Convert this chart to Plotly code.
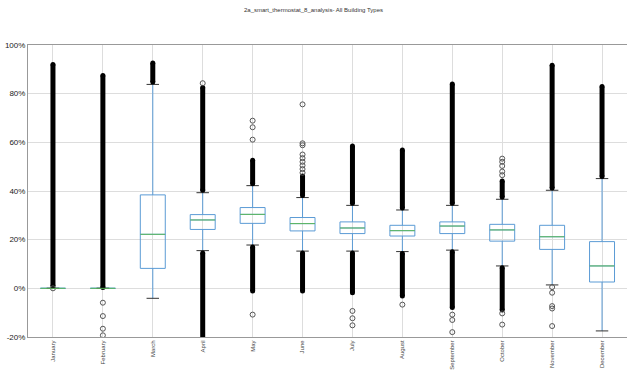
import plotly.graph_objects as go

# Monthly distribution of savings share (%), all building types
months = ["January", "February", "March", "April", "May", "June", "July",
          "August", "September", "October", "November", "December"]
q1 = [0, 0, 8.2, 24.2, 26.7, 23.6, 22.5, 21.5, 22.5, 19.4, 16.0, 2.6]
median = [0, 0, 22.2, 28.1, 30.4, 26.6, 24.8, 23.7, 25.6, 24.0, 21.2, 9.2]
q3 = [0, 0, 38.4, 30.3, 33.2, 29.1, 27.3, 25.9, 27.3, 26.3, 25.9, 19.2]
whisker_low = [0, 0, -4.1, 15.5, 17.8, 15.3, 15.3, 15.1, 15.7, 9.2, 1.4, -17.5]
whisker_high = [0, 0, 83.8, 39.3, 42.2, 37.3, 34.1, 32.2, 34.1, 36.6, 40.3, 45.1]

# Ranges packed so densely with outliers that they render as solid bands
upper_band_from = [1.0, 0.3, 84.8, 40.3, 43.0, 38.2, 35.0, 33.0, 35.0, 37.5, 41.2, 46.0]
upper_band_to = [92.0, 87.5, 92.6, 82.5, 52.6, 46.2, 58.5, 56.8, 84.0, 44.1, 91.7, 82.9]
lower_band_from = [None, None, None, 14.5, 17.0, 14.5, 14.5, 14.3, 15.0, 8.5, None, None]
lower_band_to = [None, None, None, -21.0, -1.1, -1.1, -1.8, -3.2, -7.9, -8.9, None, None]

# Isolated outliers
outlier_month = ["January",
                 "February", "February", "February", "February",
                 "April",
                 "May", "May", "May", "May",
                 "June", "June", "June", "June", "June", "June", "June", "June", "June",
                 "July", "July", "July",
                 "August",
                 "September", "September", "September",
                 "October", "October", "October", "October", "October", "October", "October",
                 "November", "November", "November", "November", "November"]
outlier_pct = [0.0,
               -5.9, -11.4, -16.6, -19.3,
               84.3,
               61.1, 66.2, 68.9, -10.8,
               47.5, 49.0, 50.5, 52.0, 53.5, 55.0, 58.8, 59.6, 75.6,
               -9.3, -12.3, -15.2,
               -6.7,
               -10.8, -13.0, -18.0,
               46.5, 48.0, 50.3, 52.0, 53.3, -10.3, -14.9,
               0.5, -1.8, -7.3, -8.3, -15.5]

y_ticks = [-20, 0, 20, 40, 60, 80, 100]
y_tick_text = [f"{v}%" for v in y_ticks]

BOX_W = 0.5
CAP_W = 0.25
BLUE = "#5b9bd5"
GREEN = "#5cb85c"
FONT = "Liberation Sans, sans-serif"

pos = list(range(len(months)))
fig = go.Figure()

fig.add_trace(go.Box(
    x=pos, q1=q1, median=median, q3=q3,
    lowerfence=whisker_low, upperfence=whisker_high,
    width=BOX_W, whiskerwidth=0, boxpoints=False,
    line=dict(color=BLUE, width=1), fillcolor="rgba(0,0,0,0)",
    showlegend=False, hoverinfo="skip",
))


def segments(values, half):
    xs, ys = [], []
    for i, v in zip(pos, values):
        xs += [i - half, i + half, None]
        ys += [v, v, None]
    return xs, ys


# Whisker caps
cx, cy = [], []
for vals in (whisker_low, whisker_high):
    sx, sy = segments(vals, CAP_W / 2)
    cx += sx
    cy += sy
fig.add_trace(go.Scatter(x=cx, y=cy, mode="lines",
                         line=dict(color="#333333", width=1),
                         showlegend=False, hoverinfo="skip"))

# Dense outlier bands
bx, by = [], []
for i in pos:
    for a, b in ((upper_band_from[i], upper_band_to[i]),
                 (lower_band_from[i], lower_band_to[i])):
        if a is None:
            continue
        bx += [i, i, None]
        by += [a, b, None]
fig.add_trace(go.Scatter(x=bx, y=by, mode="lines+markers",
                         line=dict(color="black", width=5),
                         marker=dict(symbol="circle", size=5, color="black"),
                         showlegend=False, hoverinfo="skip"))

# Isolated outliers
fig.add_trace(go.Scatter(
    x=[months.index(m) for m in outlier_month], y=outlier_pct, mode="markers",
    marker=dict(symbol="circle-open", size=5, color="#555555", line=dict(width=1)),
    showlegend=False, hoverinfo="skip"))

# Median lines
mx, my = segments(median, BOX_W / 2)
fig.add_trace(go.Scatter(x=mx, y=my, mode="lines",
                         line=dict(color=GREEN, width=1),
                         showlegend=False, hoverinfo="skip"))

fig.update_layout(
    width=627, height=370,
    margin=dict(l=28, r=0, t=45, b=33),
    paper_bgcolor="white", plot_bgcolor="white",
    title=dict(text="2a_smart_thermostat_8_analysis- All Building Types",
               x=0.5, xanchor="center", y=1 - 10 / 370, yanchor="middle",
               font=dict(family=FONT, size=6, color="#333333")),
    xaxis=dict(
        range=[-0.5, 11.5], tickmode="array", tickvals=pos, ticktext=months,
        tickangle=-90, tickfont=dict(family=FONT, size=6, color="#444444"),
        ticklabelstandoff=0,
        showgrid=True, gridcolor="#dddddd", gridwidth=1,
        showline=True, linecolor="#999999", linewidth=1, mirror=True,
        ticks="", zeroline=False, automargin=False,
    ),
    yaxis=dict(
        range=[-20, 100], tickmode="array", tickvals=y_ticks, ticktext=y_tick_text,
        tickfont=dict(family=FONT, size=8, color="#222222"),
        showgrid=True, gridcolor="#dddddd", gridwidth=1,
        showline=True, linecolor="#999999", linewidth=1, mirror=True,
        ticks="", zeroline=False, automargin=False,
    ),
)

fig.write_html("out.html")
